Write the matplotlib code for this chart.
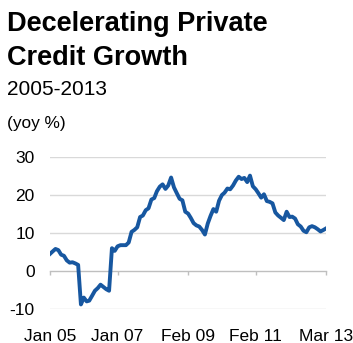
import matplotlib
matplotlib.use('Agg')
import matplotlib.pyplot as plt
import pandas as pd

plt.rcParams['font.family'] = ['Liberation Sans', 'DejaVu Sans']
plt.rcParams['axes.unicode_minus'] = False

# monthly yoy private credit growth, Jan 2005 - Mar 2013
months = pd.date_range('2005-01-01', periods=99, freq='MS')
credit_growth = [
    4.5, 5.2, 5.8, 5.5, 4.3, 4.0, 2.8, 2.2, 2.3, 2.0,
    1.6, -8.8, -7.0, -8.0, -7.8, -6.5, -5.2, -4.5, -3.6, -4.2,
    -4.8, -5.2, 6.0, 5.3, 6.5, 6.8, 6.8, 6.8, 7.5, 10.3,
    10.8, 11.5, 14.2, 14.6, 16.0, 16.5, 18.8, 19.2, 21.0, 22.2,
    22.8, 21.6, 22.5, 24.6, 22.0, 20.5, 19.0, 18.6, 15.6, 15.1,
    14.0, 12.6, 12.0, 11.7, 10.8, 9.6, 12.5, 14.5, 16.3, 15.6,
    18.5, 20.0, 20.6, 21.7, 21.5, 22.5, 23.8, 24.8, 24.2, 24.5,
    23.4, 25.1, 22.3, 21.5, 20.5, 19.3, 20.2, 18.4, 18.2, 17.8,
    15.4, 14.6, 14.0, 13.4, 15.6, 14.2, 14.3, 13.8, 12.3, 11.7,
    10.6, 10.2, 11.5, 11.8, 11.5, 11.0, 10.4, 10.8, 11.2,
]
tick_dates = pd.to_datetime(['2005-01-01', '2007-01-01', '2009-02-01', '2011-02-01', '2013-03-01'])
tick_labels = ['Jan 05', 'Jan 07', 'Feb 09', 'Feb 11', 'Mar 13']
y_ticks = [-10, 0, 10, 20, 30]

fig = plt.figure(figsize=(3.53, 3.43), dpi=100)
ax = fig.add_axes([50 / 353, 1 - 309 / 343, 276 / 353, 152 / 343])

ax.plot(months, credit_growth, color='#1757A0', lw=2.8, solid_joinstyle='round', zorder=3)

ax.set_xlim(months[0], months[-1])
ax.set_ylim(-10, 30)
ax.set_yticks(y_ticks)
for v in [-10, 10, 20, 30]:
    ax.axhline(v, color='#D9D9D9', lw=1, zorder=1)

for s in ['top', 'right', 'left']:
    ax.spines[s].set_visible(False)
ax.spines['bottom'].set_position(('data', 0))
ax.spines['bottom'].set_color('#BFBFBF')
ax.spines['bottom'].set_linewidth(1)

ax.set_xticks(tick_dates)
ax.set_xticklabels(tick_labels)
ax.tick_params(axis='x', length=3, width=1, color='#BFBFBF', pad=39, labelsize=12.5)
ax.tick_params(axis='y', length=0, pad=11, labelsize=12.5)

fig.text(0.02, 1 - 31 / 343, 'Decelerating Private', fontsize=19.5, fontweight='bold', va='baseline')
fig.text(0.02, 1 - 65 / 343, 'Credit Growth', fontsize=19.5, fontweight='bold', va='baseline')
fig.text(0.02, 1 - 95 / 343, '2005-2013', fontsize=15, va='baseline')
fig.text(0.02, 1 - 128 / 343, '(yoy %)', fontsize=12.4, va='baseline')

fig.savefig('out.png', dpi=100)
